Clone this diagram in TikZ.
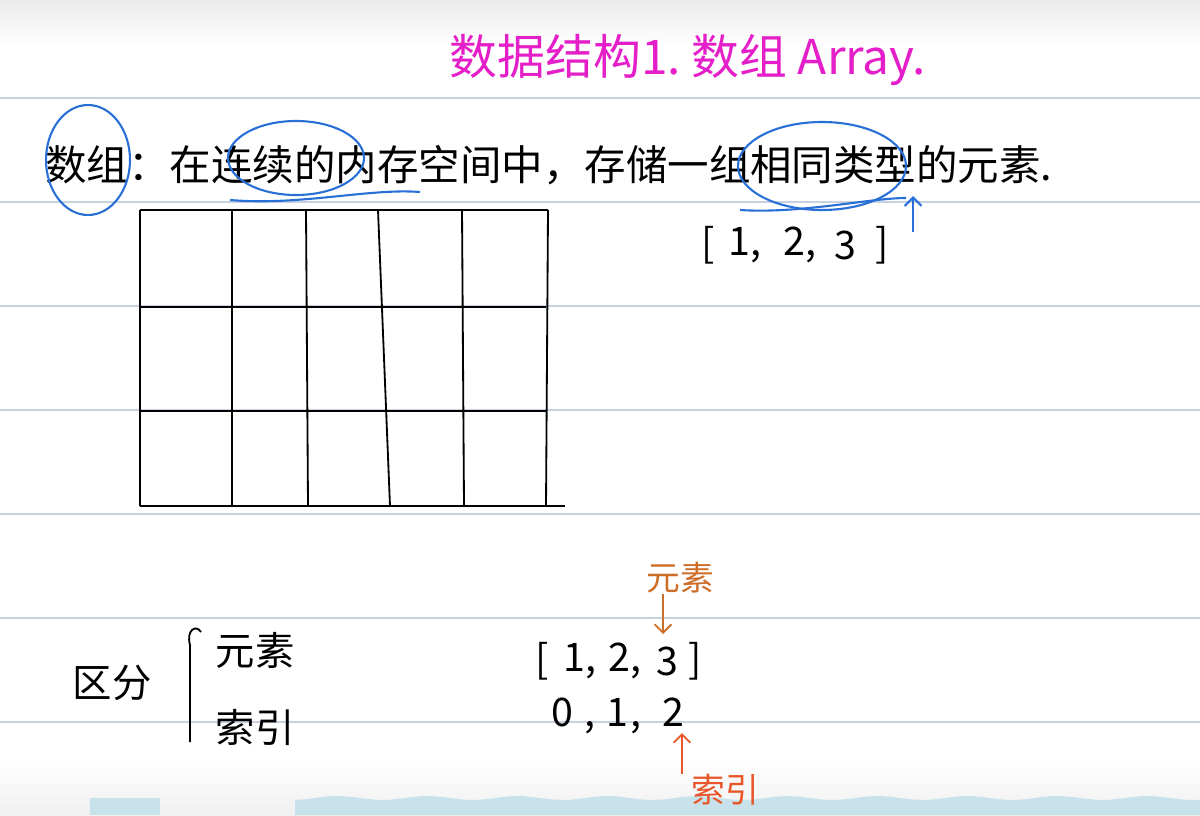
\documentclass[tikz,border=0pt]{standalone}
\usepackage{fontspec}
\setmainfont{Noto Sans CJK SC}
\usetikzlibrary{arrows.meta}
\definecolor{rulecol}{RGB}{200,210,222}
\definecolor{inkblue}{RGB}{40,112,215}
\definecolor{inkpink}{RGB}{228,30,200}
\definecolor{inkorange}{RGB}{205,110,40}
\definecolor{inkred}{RGB}{232,85,40}
\definecolor{wavecol}{RGB}{200,226,236}
\begin{document}
\begin{tikzpicture}[
 x=.025cm,y=-.025cm,
 rule/.style={line width=.8pt,rulecol},
 grid/.style={line width=1.3pt},
 loop/.style={inkblue,line width=1.5pt},
 hand/.style={font=\fontsize{28}{32}\selectfont},
 small/.style={font=\fontsize{24}{28}\selectfont},
 every node/.style={inner sep=0pt}]
 \useasboundingbox (0,0) rectangle (1200,815);
 % Page background with the ruled lines.
 \fill[top color=black!8,bottom color=white] (0,0) rectangle (1200,45);
 \fill[top color=white,bottom color=black!6] (0,760) rectangle (1200,815);
 \foreach \y in {98,202,306,410,514,618,722}{\draw[rule] (0,\y)--(1200,\y);}
 \fill[wavecol] (90,815)--(90,798)--(160,798)--(160,815)--cycle;
 \fill[wavecol] (295,815)--plot[domain=295:1200,samples=80](\x,{798+2*sin(\x*4)})--(1200,815)--cycle;
 % Title.
 \node[font=\fontsize{34}{38}\selectfont,inkpink] (title) at (688,60){数据结构1.\ 数组 Array.};
 % Definition line.
 \node[font=\fontsize{29.5}{34}\selectfont,anchor=west] (defn) at (45,165){数组：在连续的内存空间中，存储一组相同类型的元素.};
 \draw[loop] (88,160) ellipse[x radius=42,y radius=55];
 \draw[loop] (296,158) ellipse[x radius=68,y radius=37];
 \draw[loop] (230,200)..controls(300,206)and(370,188)..(420,192);
 \draw[loop] (822,166) ellipse[x radius=84,y radius=44];
 \draw[loop] (740,210)..controls(800,214)and(870,198)..(906,198);
 \coordinate (tail) at (913,232); \coordinate (tip) at (913,196);
 \draw[loop,-{Straight Barb[length=6pt]}] (tail)--(tip);
 % Example array.
 \node[hand] (lb) at (708,245){[};
 \node[hand] (a1) at (745,245){1,};
 \node[hand] (a2) at (800,245){2,};
 \node[hand] (a3) at (845,245){3};
 \node[hand] (rb) at (882,245){]};
 % Memory grid.
 \draw[grid] (140,210)--(548,210) (140,307)--(546,307) (140,411)--(546,411)
             (140,506)--(565,506);
 \draw[grid] (140,210)--(140,506) (232,210)--(232,506) (306,210)--(308,506)
             (378,210)--(390,506) (462,210)--(464,506) (548,210)--(546,506);
 % Element versus index.
 \node[hand] (qf) at (112,683){区分};
 \draw[line width=1.3pt] (190,742)--(190,645)..controls(186,630)and(196,624)..(201,632);
 \node[hand] (ys) at (255,650){元素};
 \node[hand] (sy) at (255,728){索引};
 \node[hand] (blb) at (542,661){[};
 \node[hand] (b1) at (580,661){1,};
 \node[hand] (b2) at (625,661){2,};
 \node[hand] (b3) at (667,661){3};
 \node[hand] (brb) at (695,661){]};
 \node[hand,anchor=base] (i0) at (562,726){0};
 \node[hand,anchor=base] (c0) at (590,726){,};
 \node[hand,anchor=base] (i1) at (617,726){1};
 \node[hand,anchor=base] (c1) at (636,726){,};
 \node[hand,anchor=base] (i2) at (673,726){2};
 \node[small,inkorange] (elemtag) at (680,578){元素};
 \node[small,inkred] (idxtag) at (725,790){索引};
 \coordinate (etip) at (663,634); \coordinate (itip) at (682,733);
 \draw[inkorange,line width=1.3pt,-{Straight Barb[length=6pt]}] (elemtag.south-|etip)--(etip);
 \draw[inkred,line width=1.3pt,-{Straight Barb[length=6pt]}] (idxtag.north-|itip)--(itip);
\end{tikzpicture}
\end{document}
